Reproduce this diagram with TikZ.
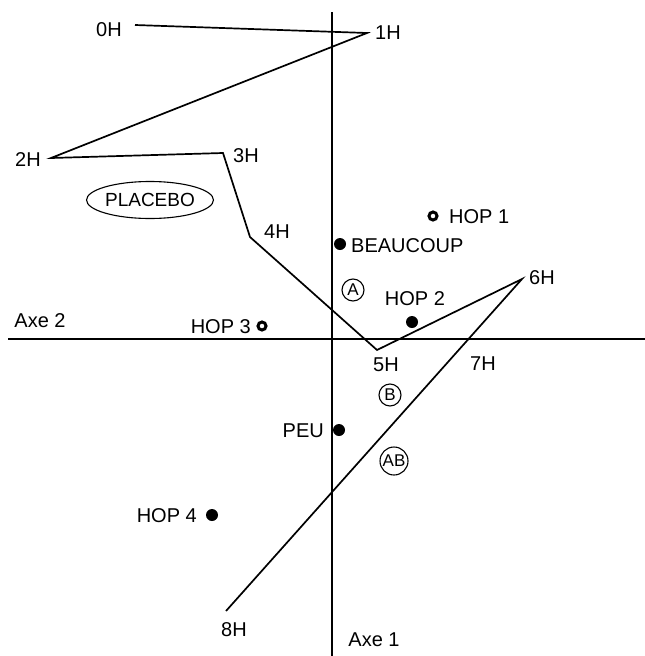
\documentclass[tikz,border=0pt]{standalone}
\usepackage{fontspec}
\setmainfont{Liberation Sans}
\usetikzlibrary{shapes.geometric}
\begin{document}
\begin{tikzpicture}[x=1pt,y=-1pt,
  lbl/.style={font=\fontsize{20}{20}\selectfont, inner sep=0pt},
  traj/.style={line width=1.7pt, line join=miter},
  axis/.style={line width=1.7pt},
  fdot/.style={circle, fill=black, inner sep=0pt, minimum size=12pt},
  rdot/.style={circle, draw=black, line width=3pt, inner sep=0pt, minimum size=8pt},
  circ/.style={circle, draw=black, line width=1.1pt, inner sep=0pt, minimum size=22pt, font=\fontsize{17}{17}\selectfont}]
\useasboundingbox (0,0) rectangle (645,656);
% axes
\coordinate (vtop) at (332,12);
\coordinate (vbot) at (332,656);
\coordinate (hl) at (8,339);
\coordinate (hr) at (645,339);
\draw[axis] (vtop) -- (vbot);
\draw[axis] (hl) -- (hr);
\node[lbl] (axe2) at (40,321) {Axe 2};
\node[lbl] (axe1) at (374,640) {Axe 1};
% trajectory vertices
\coordinate (h0) at (135,25);
\coordinate (h1) at (367,33);
\coordinate (h2) at (51,158);
\coordinate (h3) at (223,153);
\coordinate (h4) at (250,237);
\coordinate (h5) at (377,350);
\coordinate (h6) at (522,279);
\coordinate (h8) at (226,611);
\draw[traj] (h0) -- (h1) -- (h2) -- (h3) -- (h4) -- (h5) -- (h6) -- (h8);
% hour labels
\node[lbl] (l0) at (109,30) {0H};
\node[lbl] (l1) at (388,33) {1H};
\node[lbl] (l2) at (28,160) {2H};
\node[lbl] (l3) at (246,156) {3H};
\node[lbl] (l4) at (277,232) {4H};
\node[lbl] (l5) at (386,365) {5H};
\node[lbl] (l6) at (542,278) {6H};
\node[lbl] (l7) at (483,364) {7H};
\node[lbl] (l8) at (234,630) {8H};
% placebo
\node[ellipse, draw=black, line width=1.1pt, minimum width=117pt, minimum height=37pt, inner sep=0pt,
  font=\fontsize{19}{19}\selectfont] (placebo) at (150,200) {PLACEBO};
% points
\node[rdot] (hop1) at (433,216) {};
\node[lbl, anchor=west] (hop1l) at (449,217) {HOP 1};
\node[fdot] (beau) at (340,244) {};
\node[lbl, anchor=west] (beaul) at (351,246) {BEAUCOUP};
\node[fdot] (hop2) at (412,322) {};
\node[lbl] (hop2l) at (415,299) {HOP 2};
\node[rdot] (hop3) at (262,326) {};
\node[lbl, anchor=east] (hop3l) at (251,327) {HOP 3};
\node[fdot] (peu) at (339,430) {};
\node[lbl, anchor=east] (peul) at (324,431) {PEU};
\node[fdot] (hop4) at (212,515) {};
\node[lbl, anchor=east] (hop4l) at (197,516) {HOP 4};
% circled groups
\node[circ] (ga) at (353,290) {A};
\node[circ] (gb) at (390,395) {B};
\node[circ, minimum size=28pt] (gab) at (394,461) {AB};
\end{tikzpicture}
\end{document}
